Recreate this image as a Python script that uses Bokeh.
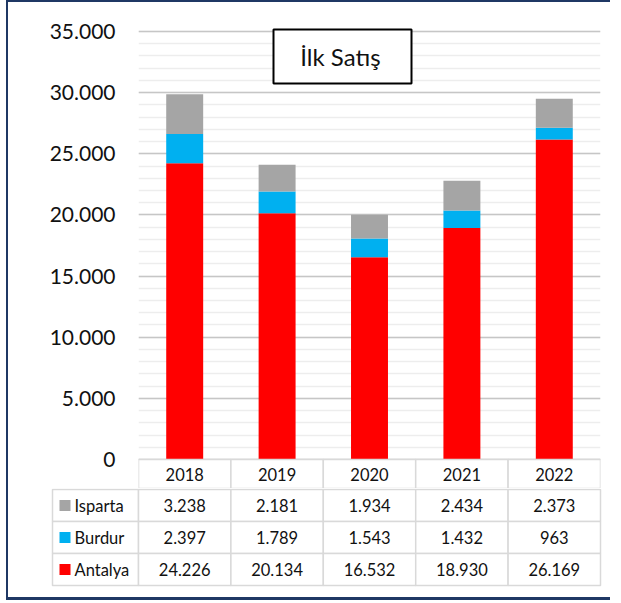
from bokeh.plotting import figure
from bokeh.models import FactorRange, Range1d, FixedTicker, ColumnDataSource, BoxAnnotation, Label
from bokeh.layouts import column, row
from bokeh.core.properties import value
from bokeh.embed import file_html
from bokeh.resources import INLINE

# ---------------- data ----------------
years = ["2018", "2019", "2020", "2021", "2022"]
series = ["Antalya", "Burdur", "Isparta"]          # stacking order (bottom -> top)
antalya = [24226, 20134, 16532, 18930, 26169]
burdur = [2397, 1789, 1543, 1432, 963]
isparta = [3238, 2181, 1934, 2434, 2373]
table_rows = ["Isparta", "Burdur", "Antalya"]      # table order (top -> bottom)
y_ticks = [0, 5000, 10000, 15000, 20000, 25000, 30000, 35000]
y_tick_labels = ["0", "5.000", "10.000", "15.000", "20.000", "25.000", "30.000", "35.000"]
y_minor_ticks = list(range(0, 35001, 1000))
title_text = "İlk Satış"

# ---------------- style ----------------
colors = {"Antalya": "#FF0000", "Burdur": "#00B0F0", "Isparta": "#A5A5A5"}
FONT = "Lato"
TXT = "#111111"
TBL = "#D9D9D9"
NAVY = "#1F3864"

CAT_W = 92.4          # px per category
PLOT_H = 428          # px from 0 to 35000
Y_MAX = y_ticks[-1]
upp = Y_MAX / PLOT_H  # data units per px
TOP_GAP = 4           # px above top gridline inside frame
HDR_H = 29            # px of header row inside figure A

def y_at(px_below_top):
    return Y_MAX - px_below_top * upp

# ---------------- chart figure ----------------
pA = figure(width=602, height=25 + TOP_GAP + PLOT_H + HDR_H,
            x_range=FactorRange(*years),
            y_range=Range1d(-HDR_H * upp, Y_MAX + TOP_GAP * upp),
            x_axis_location=None, title=None,
            output_backend="svg", toolbar_location=None,
            min_border_left=130, min_border_right=10,
            min_border_top=25, min_border_bottom=0)
pA.outline_line_color = None
pA.xgrid.visible = False

ax = pA.yaxis[0]
ax.ticker = FixedTicker(ticks=y_ticks, minor_ticks=y_minor_ticks)
ax.major_label_overrides = dict(zip(y_ticks, y_tick_labels))
ax.axis_line_color = None
ax.major_tick_line_color = None
ax.minor_tick_line_color = None
ax.major_tick_out = 0
ax.major_tick_in = 0
ax.minor_tick_out = 0
ax.minor_tick_in = 0
ax.major_label_standoff = 23
ax.major_label_text_font = FONT
ax.major_label_text_font_size = "21px"
ax.major_label_text_color = TXT

pA.ygrid.grid_line_color = "#C6C6C6"
pA.ygrid.grid_line_width = 1.5
pA.ygrid.minor_grid_line_color = "#EDEDED"
pA.ygrid.minor_grid_line_width = 1.5

src = ColumnDataSource(dict(year=years, Antalya=antalya, Burdur=burdur, Isparta=isparta))
pA.vbar_stack(series, x="year", width=0.4, source=src,
              fill_color=[colors[s] for s in series], line_color=None)

# header row of the data table (years)
pA.vbar(x=years, width=1, top=0, bottom=-3 * HDR_H * upp,
        fill_color="white", line_color=TBL, line_width=1.5)
pA.text(x=years, y=[-15 * upp] * len(years), text=years,
        text_align="center", text_baseline="middle",
        text_font=value(FONT), text_font_size="16.5px", text_color=TXT)

# title box
pA.add_layout(BoxAnnotation(left=(273 - 138) / CAT_W, right=(411 - 138) / CAT_W,
                            top=y_at(-2), bottom=y_at(52),
                            fill_color="white", fill_alpha=1.0,
                            line_color="black", line_alpha=1.0, line_width=2))
pA.add_layout(Label(x=(340 - 138) / CAT_W, y=y_at(25), text=title_text,
                    text_align="center", text_baseline="middle",
                    text_font=FONT, text_font_size="24px", text_color=TXT))

# ---------------- table figure ----------------
ROW_H = 32
L = 86 / CAT_W
nrow = len(table_rows)
pB = figure(width=602, height=1 + nrow * ROW_H + 3 + 9,
            x_range=Range1d(-L - 2 / CAT_W, len(years) + 2 / CAT_W),
            y_range=Range1d(nrow + 3 / ROW_H, -1 / ROW_H),
            x_axis_location=None, y_axis_location=None, title=None,
            output_backend="svg", toolbar_location=None,
            min_border_left=42, min_border_right=8,
            min_border_top=0, min_border_bottom=9)
pB.outline_line_color = None
pB.xgrid.visible = False
pB.ygrid.visible = False

row_data = {"Antalya": antalya, "Burdur": burdur, "Isparta": isparta}
ql, qr, qt, qb = [], [], [], []
vx, vy, vt = [], [], []
for i, r in enumerate(table_rows):
    ql.append(-L); qr.append(0); qt.append(i); qb.append(i + 1)
    for j, v in enumerate(row_data[r]):
        ql.append(j); qr.append(j + 1); qt.append(i); qb.append(i + 1)
        vx.append(j + 0.5); vy.append(i + 0.5)
        vt.append(f"{v:,}".replace(",", "."))
pB.quad(left=ql, right=qr, top=qt, bottom=qb,
        fill_color="white", line_color=TBL, line_width=1.5)
pB.text(x=vx, y=vy, text=vt, text_align="center", text_baseline="middle",
        text_font=value(FONT), text_font_size="16.5px", text_color=TXT)

ry = [i + 0.5 for i in range(nrow)]
pB.rect(x=[-L + 12.5 / CAT_W] * nrow, y=ry, width=11, height=11,
        width_units="screen", height_units="screen",
        fill_color=[colors[r] for r in table_rows], line_color=None)
pB.text(x=[-L + 22 / CAT_W] * nrow, y=ry, text=table_rows,
        text_align="left", text_baseline="middle",
        text_font=value(FONT), text_font_size="16.5px", text_color=TXT)

layout = column(row(pA), row(pB), spacing=0,
                styles={"margin-left": "6px",
                        "border-left": f"2px solid {NAVY}",
                        "border-top": f"2px solid {NAVY}",
                        "border-bottom": f"3px solid {NAVY}"})

open("out.html", "w").write(file_html(layout, INLINE))
